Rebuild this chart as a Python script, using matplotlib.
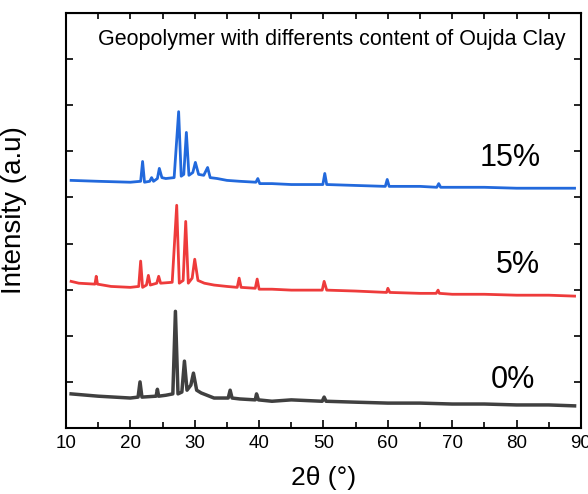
import matplotlib.pyplot as plt
from matplotlib.ticker import MultipleLocator

plt.rcParams['font.family'] = ['Liberation Sans', 'DejaVu Sans']

# 0 % clay (gray), intensity in plot units
theta0 = [10.8, 15, 20, 21.2, 21.5, 21.8, 24.0, 24.2, 24.4, 25.5, 26.6, 27.0, 27.4,
          28.0, 28.4, 28.8, 29.4, 29.8, 30.3, 31, 33, 35.2, 35.5, 35.8, 37, 39.4,
          39.6, 39.9, 42, 45, 49.8, 50.1, 50.4, 55, 60, 65, 70, 75, 80, 85, 89]
int0 = [0.74, 0.69, 0.65, 0.67, 1.00, 0.67, 0.69, 0.84, 0.69, 0.71, 0.74, 2.53, 0.74,
        0.78, 1.45, 0.82, 0.93, 1.19, 0.82, 0.76, 0.65, 0.65, 0.82, 0.65, 0.63, 0.61,
        0.74, 0.61, 0.58, 0.61, 0.58, 0.67, 0.58, 0.56, 0.54, 0.54, 0.52, 0.52, 0.50,
        0.50, 0.48]

# 5 % clay (red)
theta5 = [10.8, 12, 14.5, 14.7, 14.9, 17, 20, 21.3, 21.6, 21.9, 22.5, 22.8, 23.1,
          24.1, 24.4, 24.7, 26.5, 27.2, 27.6, 28.2, 28.6, 29.0, 29.6, 30.0, 30.5,
          31.5, 33, 35, 36.6, 36.9, 37.2, 39.4, 39.7, 40.0, 42, 45, 49.8, 50.1, 50.5,
          55, 59.8, 60.0, 60.3, 65, 67.5, 67.8, 68.0, 70, 75, 80, 85, 89]
int5 = [3.18, 3.14, 3.12, 3.29, 3.12, 3.07, 3.05, 3.07, 3.62, 3.05, 3.10, 3.31, 3.10,
        3.14, 3.29, 3.14, 3.16, 4.83, 3.14, 3.20, 4.48, 3.14, 3.25, 3.66, 3.20,
        3.14, 3.10, 3.07, 3.05, 3.25, 3.05, 3.03, 3.23, 3.01, 3.01, 2.99, 2.99, 3.18,
        2.99, 2.97, 2.94, 3.03, 2.94, 2.92, 2.92, 2.99, 2.92, 2.90, 2.90, 2.88, 2.88,
        2.86]

# 15 % clay (blue)
theta15 = [10.8, 15, 20, 21.6, 21.9, 22.2, 23.0, 23.3, 23.6, 24.2, 24.5, 24.9, 25.5,
           26.8, 27.5, 27.9, 28.3, 28.7, 29.1, 29.7, 30.1, 30.6, 31.4, 32.0, 32.4,
           33.5, 35, 37, 39.5, 39.8, 40.1, 42, 45, 49.9, 50.2, 50.5, 55, 59.6, 59.9,
           60.2, 65, 67.6, 67.9, 68.2, 70, 75, 80, 85, 89]
int15 = [5.37, 5.35, 5.33, 5.35, 5.78, 5.33, 5.35, 5.43, 5.35, 5.41, 5.63, 5.43, 5.41,
         5.43, 6.86, 5.46, 5.50, 6.41, 5.48, 5.54, 5.76, 5.50, 5.48, 5.65, 5.43,
         5.41, 5.37, 5.35, 5.33, 5.41, 5.30, 5.30, 5.28, 5.28, 5.52, 5.28, 5.26, 5.24,
         5.39, 5.24, 5.24, 5.22, 5.30, 5.22, 5.22, 5.22, 5.20, 5.20, 5.20]

labels = ['0%', '5%', '15%']

fig = plt.figure(figsize=(5.88, 4.94), dpi=100)
ax = fig.add_axes([0.1122, 0.1336, 0.8759, 0.8401])

ax.plot(theta0, int0, color='#404040', lw=2.5)
ax.plot(theta5, int5, color='#ee3b3b', lw=2.0)
ax.plot(theta15, int15, color='#2269dc', lw=2.0)

ax.text(79.4, 1.04, labels[0], fontsize=22, ha='center', va='center')
ax.text(80.2, 3.54, labels[1], fontsize=22, ha='center', va='center')
ax.text(79.0, 5.86, labels[2], fontsize=22, ha='center', va='center')

ax.text(51.3, 8.42, 'Geopolymer with differents content of Oujda Clay',
        fontsize=15.5, ha='center', va='center')

ax.set_xlim(10, 90)
ax.set_ylim(0, 9)
ax.xaxis.set_major_locator(MultipleLocator(10))
ax.xaxis.set_minor_locator(MultipleLocator(5))
ax.set_yticks([1, 2, 3, 4, 5, 6, 7, 8])
ax.set_yticklabels([])
ax.tick_params(axis='x', which='major', direction='in', length=6, width=1.2,
               labelsize=13.5, pad=5, top=False)
ax.tick_params(axis='x', which='minor', direction='in', length=4, width=1.2, top=False)
ax.tick_params(axis='y', direction='in', length=5, width=1.2, right=True)

# short ticks along the top edge every 5 degrees
top = ax.secondary_xaxis('top')
top.xaxis.set_major_locator(MultipleLocator(5))
top.tick_params(direction='in', length=4, width=1.2, labeltop=False)

for s in ax.spines.values():
    s.set_linewidth(1.5)

ax.set_xlabel('2θ (°)', fontsize=19, labelpad=10)
ax.set_ylabel('Intensity (a.u)', fontsize=20)
ax.yaxis.set_label_coords(-0.075, 0.525)

plt.savefig('out.png', dpi=100)
